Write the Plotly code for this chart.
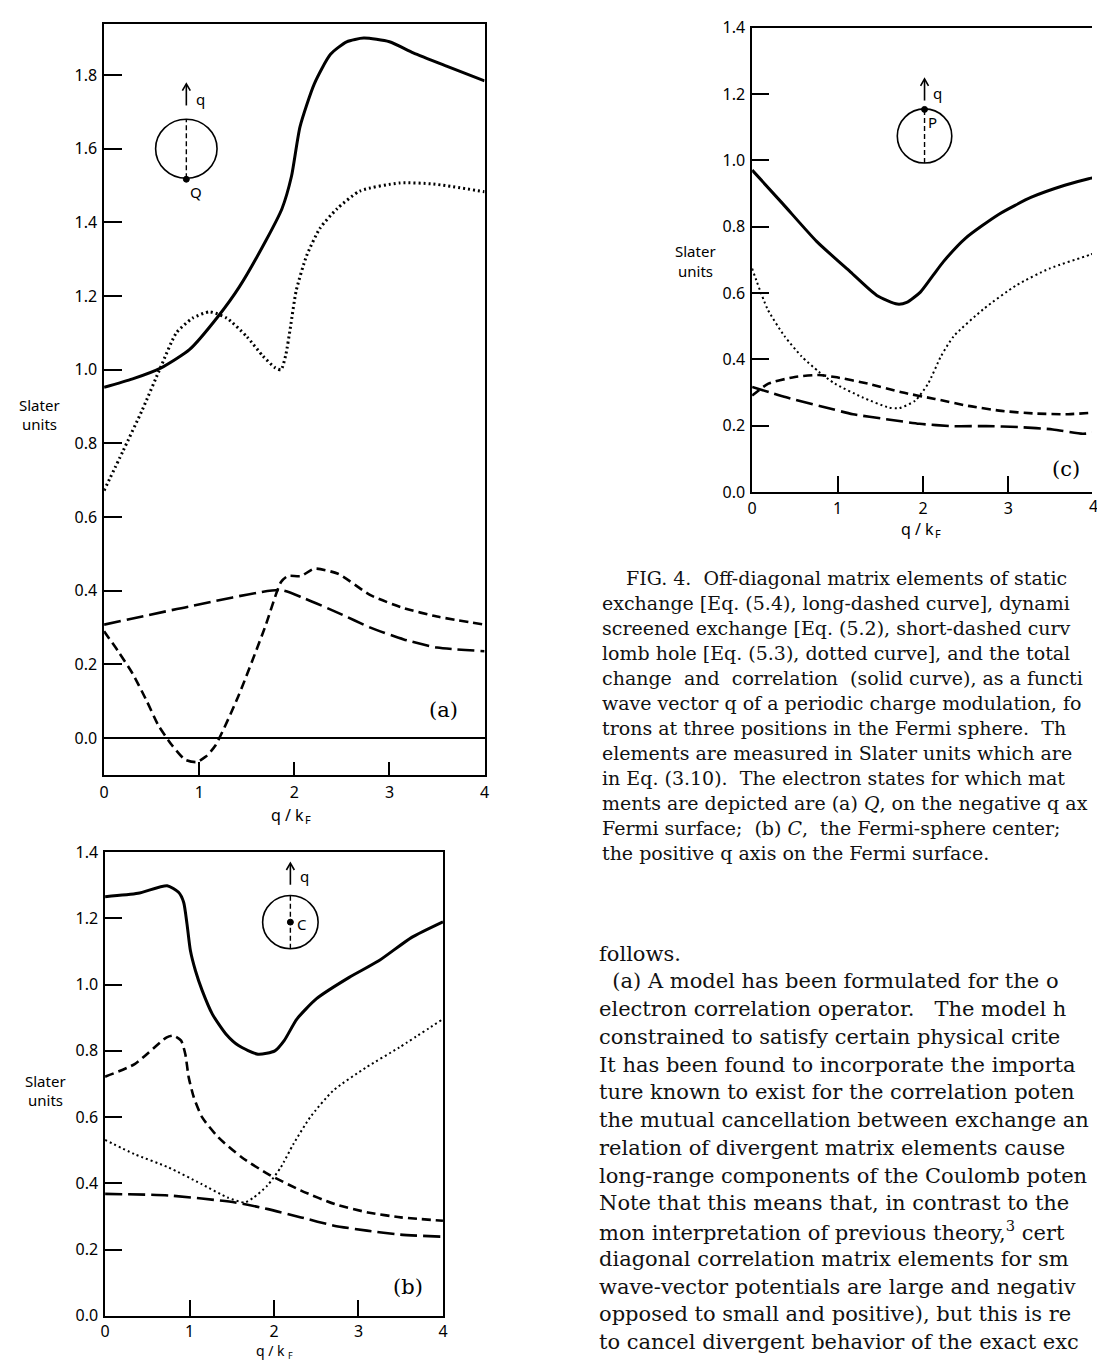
import plotly.graph_objects as go

W, H = 1097, 1370

# ---------------- data: panel (a), electron at Q ----------------
a_total_q = [0, 0.3, 0.6, 0.9, 1.2, 1.42, 1.70, 1.87, 1.97, 2.06, 2.21, 2.38, 2.55, 2.73, 3.0, 3.25, 3.6, 4.0]
a_total_v = [0.952, 0.975, 1.005, 1.055, 1.145, 1.224, 1.35, 1.437, 1.525, 1.66, 1.776, 1.856, 1.89, 1.90, 1.89, 1.86, 1.824, 1.784]

a_hole_q = [0, 0.2, 0.4, 0.6, 0.76, 0.93, 1.11, 1.29, 1.5, 1.67, 1.80, 1.86, 1.91, 1.96, 2.02, 2.13, 2.27, 2.45, 2.69, 3.11, 3.46, 4.0]
a_hole_v = [0.672, 0.78, 0.89, 1.01, 1.10, 1.14, 1.157, 1.14, 1.09, 1.037, 1.005, 1.0, 1.04, 1.117, 1.215, 1.31, 1.384, 1.437, 1.485, 1.507, 1.504, 1.483]

a_static_q = [0, 0.89, 1.85, 2.1, 2.46, 2.8, 3.15, 3.5, 4.0]
a_static_v = [0.308, 0.357, 0.402, 0.38, 0.34, 0.30, 0.268, 0.246, 0.236]

a_screen_q = [0, 0.15, 0.30, 0.45, 0.57, 0.71, 0.85, 0.97, 1.07, 1.17, 1.41, 1.69, 1.86, 1.93, 2.07, 2.21, 2.46, 2.8, 3.15, 3.5, 4.0]
a_screen_v = [0.29, 0.235, 0.175, 0.1, 0.035, -0.018, -0.058, -0.065, -0.05, -0.02, 0.113, 0.30, 0.424, 0.44, 0.44, 0.46, 0.446, 0.388, 0.353, 0.33, 0.308]

# ---------------- data: panel (b), electron at C ----------------
b_total_q = [0, 0.39, 0.735, 0.87, 0.93, 0.97, 1.01, 1.07, 1.15, 1.27, 1.43, 1.58, 1.81, 2.01, 2.12, 2.27, 2.50, 2.89, 3.24, 3.63, 4.0]
b_total_v = [1.266, 1.276, 1.299, 1.279, 1.249, 1.183, 1.103, 1.042, 0.982, 0.911, 0.851, 0.816, 0.79, 0.80, 0.831, 0.896, 0.957, 1.022, 1.072, 1.143, 1.19]

b_screen_q = [0, 0.35, 0.73, 0.81, 0.90, 0.95, 0.99, 1.05, 1.15, 1.34, 1.62, 1.93, 2.32, 2.72, 3.11, 3.5, 4.0]
b_screen_v = [0.722, 0.76, 0.841, 0.846, 0.831, 0.79, 0.72, 0.66, 0.599, 0.539, 0.478, 0.428, 0.378, 0.337, 0.312, 0.297, 0.287]

b_static_q = [0, 0.76, 1.54, 1.93, 2.32, 2.71, 3.10, 3.49, 3.97]
b_static_v = [0.368, 0.363, 0.342, 0.322, 0.297, 0.272, 0.257, 0.245, 0.239]

b_hole_q = [0, 0.35, 0.75, 1.14, 1.45, 1.65, 1.76, 1.92, 2.08, 2.23, 2.43, 2.70, 3.09, 3.48, 4.0]
b_hole_v = [0.531, 0.488, 0.448, 0.398, 0.357, 0.342, 0.357, 0.393, 0.448, 0.519, 0.60, 0.68, 0.75, 0.81, 0.896]

# ---------------- data: panel (c), electron at P ----------------
c_total_q = [0, 0.36, 0.755, 1.15, 1.46, 1.70, 1.81, 1.97, 2.12, 2.24, 2.50, 2.89, 3.27, 3.66, 3.94, 4.0]
c_total_v = [0.971, 0.869, 0.756, 0.664, 0.593, 0.567, 0.572, 0.603, 0.654, 0.695, 0.766, 0.838, 0.889, 0.925, 0.945, 0.948]

c_hole_q = [0, 0.18, 0.38, 0.58, 0.78, 0.97, 1.29, 1.60, 1.72, 1.91, 2.06, 2.21, 2.36, 2.71, 3.09, 3.48, 3.95, 4.0]
c_hole_v = [0.674, 0.552, 0.47, 0.409, 0.363, 0.327, 0.286, 0.255, 0.253, 0.276, 0.327, 0.409, 0.47, 0.552, 0.623, 0.674, 0.715, 0.72]

c_screen_q = [0, 0.19, 0.50, 0.78, 0.97, 1.36, 1.75, 2.14, 2.53, 2.92, 3.31, 3.70, 4.0]
c_screen_v = [0.291, 0.327, 0.347, 0.353, 0.347, 0.327, 0.301, 0.281, 0.26, 0.245, 0.237, 0.235, 0.24]

c_static_q = [0, 0.40, 0.79, 1.18, 1.57, 1.96, 2.35, 2.74, 3.13, 3.52, 3.87, 4.0]
c_static_v = [0.317, 0.286, 0.26, 0.235, 0.22, 0.206, 0.199, 0.199, 0.196, 0.189, 0.176, 0.179]

# ---------------- tick labels ----------------
x_ticks = [0, 1, 2, 3, 4]
x_tick_text = ["0", "1", "2", "3", "4"]
a_y_ticks = [0.0, 0.2, 0.4, 0.6, 0.8, 1.0, 1.2, 1.4, 1.6, 1.8]
bc_y_ticks = [0.0, 0.2, 0.4, 0.6, 0.8, 1.0, 1.2, 1.4]

caption_lines = [
    "FIG. 4.\u00a0 Off-diagonal matrix elements of static",
    "exchange [Eq. (5.4), long-dashed curve], dynami",
    "screened exchange [Eq. (5.2), short-dashed curv",
    "lomb hole [Eq. (5.3), dotted curve], and the total",
    "change\u00a0 and\u00a0 correlation\u00a0 (solid curve), as a functi",
    "wave vector q of a periodic charge modulation, fo",
    "trons at three positions in the Fermi sphere.\u00a0 Th",
    "elements are measured in Slater units which are",
    "in Eq. (3.10).\u00a0 The electron states for which mat",
    "ments are depicted are (a) <i>Q</i>, on the negative q ax",
    "Fermi surface;\u00a0 (b) <i>C</i>,\u00a0 the Fermi-sphere center;",
    "the positive q axis on the Fermi surface.",
]
body_lines = [
    "follows.",
    "\u00a0\u00a0(a) A model has been formulated for the o",
    "electron correlation operator.\u00a0\u00a0 The model h",
    "constrained to satisfy certain physical crite",
    "It has been found to incorporate the importa",
    "ture known to exist for the correlation poten",
    "the mutual cancellation between exchange an",
    "relation of divergent matrix elements cause",
    "long-range components of the Coulomb poten",
    "Note that this means that, in contrast to the",
    "mon interpretation of previous theory,<sup>3</sup> cert",
    "diagonal correlation matrix elements for sm",
    "wave-vector potentials are large and negativ",
    "opposed to small and positive), but this is re",
    "to cancel divergent behavior of the exact exc",
]


def px(x):
    return x / W


def py(y):
    return 1 - y / H


fig = go.Figure()

SOLID = dict(color="black", width=3, dash="solid")
LONG = dict(color="black", width=2.6, dash="17px,6px")
SHORT = dict(color="black", width=2.6, dash="9px,5px")
DOT_A = dict(color="black", width=3, dash="2px,3px")
DOT_BC = dict(color="black", width=2, dash="2px,3px")


def add(q, v, line, xa, ya):
    fig.add_trace(go.Scatter(x=q, y=v, mode="lines", line=dict(**line, shape="spline", smoothing=0.6),
                             xaxis=xa, yaxis=ya, showlegend=False, hoverinfo="skip"))


add(a_total_q, a_total_v, SOLID, "x", "y")
add(a_hole_q, a_hole_v, DOT_A, "x", "y")
add(a_static_q, a_static_v, LONG, "x", "y")
add(a_screen_q, a_screen_v, SHORT, "x", "y")

add(b_total_q, b_total_v, SOLID, "x2", "y2")
add(b_screen_q, b_screen_v, SHORT, "x2", "y2")
add(b_static_q, b_static_v, LONG, "x2", "y2")
add(b_hole_q, b_hole_v, DOT_BC, "x2", "y2")

add(c_total_q, c_total_v, SOLID, "x3", "y3")
add(c_hole_q, c_hole_v, DOT_BC, "x3", "y3")
add(c_screen_q, c_screen_v, SHORT, "x3", "y3")
add(c_static_q, c_static_v, LONG, "x3", "y3")

TICKFONT = dict(family="Noto Sans", size=16, color="black")


def xax(x0, x1, rng, ticklen, standoff, anchor):
    return dict(domain=[px(x0), px(x1)], range=rng, anchor=anchor, showline=True, linecolor="black",
                linewidth=1.5, mirror=True, showgrid=False, zeroline=False, ticks="inside",
                ticklen=ticklen, tickwidth=1.5, tickcolor="black", tickvals=x_ticks, ticktext=x_tick_text,
                tickfont=TICKFONT, ticklabelstandoff=standoff)


def yax(y0, y1, rng, vals, ticklen, anchor, mirror=True, zero=False):
    return dict(domain=[py(y1), py(y0)], range=rng, anchor=anchor, showline=True, linecolor="black",
                linewidth=1.5, mirror=mirror, showgrid=False, zeroline=zero, zerolinecolor="black",
                zerolinewidth=1.5, ticks="inside", ticklen=ticklen, tickwidth=1.5, tickcolor="black",
                tickvals=vals, tickformat=".1f", tickfont=TICKFONT, ticklabelstandoff=2)


# pixel frames of the three panels
A = dict(x0=100, x1=484, y0=13, y1=776)
B = dict(x0=101, x1=442, y0=855, y1=1326)
C = dict(x0=754, x1=1097, y0=17, y1=489)

xa = xax(A["x0"], A["x1"], [0, 4], 13, 3, "y")
ya = yax(A["y0"], A["y1"], [-0.0988, 1.9389], a_y_ticks, 18, "x", zero=True)
xb = xax(B["x0"], B["x1"], [0, 4], 16, 0, "y2")
yb = yax(B["y0"], B["y1"], [0, 1.4], bc_y_ticks, 17, "x2")
xc = xax(C["x0"], C["x1"], [0, (1097 - 754) / 86.2], 16, 1, "y3")
yc = yax(C["y0"], C["y1"], [0, 1.4], bc_y_ticks, 17, "x3", mirror=False)

annotations = []
shapes = []


def text(x, y, s, size=16, family="Noto Sans", xanchor="center", yanchor="middle", color="black"):
    annotations.append(dict(x=px(x), y=py(y), xref="paper", yref="paper", text=s, showarrow=False,
                            xanchor=xanchor, yanchor=yanchor, font=dict(family=family, size=size, color=color)))


def qk_title(cx, cy, size=16):
    # "q / k" with a subscript F, drawn as two texts
    text(cx - 4, cy, "q / k", size=size)
    text(cx + 16.5, cy + 5, "F", size=size - 5)


# axis titles
for (cx, y1, y2) in [(35, 400, 420), (41, 1087, 1107), (697, 244, 264)]:
    text(cx, y1, "Slater", size=15)
    text(cx, y2, "units", size=15)
qk_title(289, 817)
qk_title(272, 1361, size=14)
qk_title(925, 526)
# partially visible "4" of panel (c)
text(1099, 503, "4", size=16)

# panel letters
text(443, 710, "(a)", size=21, family="DejaVu Serif")
text(407, 1297, "(b)", size=21, family="DejaVu Serif")
text(1071, 465, "(c)", size=21, family="DejaVu Serif")


def inset(cx, cy, rx, ry, dot_y, label, lx, ly, ax_top, ax_bot, qx, qy):
    shapes.append(dict(type="circle", xref="paper", yref="paper", x0=px(cx - rx), x1=px(cx + rx),
                       y0=py(cy + ry), y1=py(cy - ry), line=dict(color="black", width=1.6)))
    shapes.append(dict(type="line", xref="paper", yref="paper", x0=px(cx), x1=px(cx), y0=py(cy + ry),
                       y1=py(cy - ry), line=dict(color="black", width=1.4, dash="5px,3px")))
    shapes.append(dict(type="circle", xref="paper", yref="paper", x0=px(cx - 3), x1=px(cx + 3),
                       y0=py(dot_y + 3), y1=py(dot_y - 3), fillcolor="black", line=dict(color="black", width=1)))
    text(lx, ly, label, size=15)
    # arrow "q" direction: shaft plus open head
    shapes.append(dict(type="line", xref="paper", yref="paper", x0=px(cx), x1=px(cx), y0=py(ax_bot),
                       y1=py(ax_top + 1), line=dict(color="black", width=1.6)))
    shapes.append(dict(type="path", xref="paper", yref="paper",
                       path="M {} {} L {} {} L {} {}".format(px(cx - 4), py(ax_top + 7), px(cx), py(ax_top),
                                                             px(cx + 4), py(ax_top + 7)),
                       line=dict(color="black", width=1.6)))
    text(qx, qy, "q", size=15)


inset(183, 140, 31, 30, 171, "Q", 193, 184, 74, 96, 197, 89)
inset(288, 926, 28, 27, 926, "C", 300, 928, 866, 888, 302, 879)
inset(928, 127, 27.5, 27.5, 100, "P", 936, 113, 69, 91, 941, 83)

# caption and running text
for i, s in enumerate(caption_lines):
    x = 625 if i == 0 else 600
    text(x, 576 + i * 25.4, s, size=19, family="DejaVu Serif", xanchor="left", color="#111")
for i, s in enumerate(body_lines):
    text(597, 958 + i * 28.2, s, size=21, family="DejaVu Serif", xanchor="left", color="#111")

fig.update_layout(
    width=W, height=H, margin=dict(l=0, r=0, t=0, b=0),
    paper_bgcolor="white", plot_bgcolor="white",
    xaxis=xa, yaxis=ya, xaxis2=xb, yaxis2=yb, xaxis3=xc, yaxis3=yc,
    annotations=annotations, shapes=shapes, showlegend=False,
)

fig.write_html("out.html", config={"displayModeBar": False},
               post_script="document.body.style.margin='0';document.body.style.overflow='hidden';")
